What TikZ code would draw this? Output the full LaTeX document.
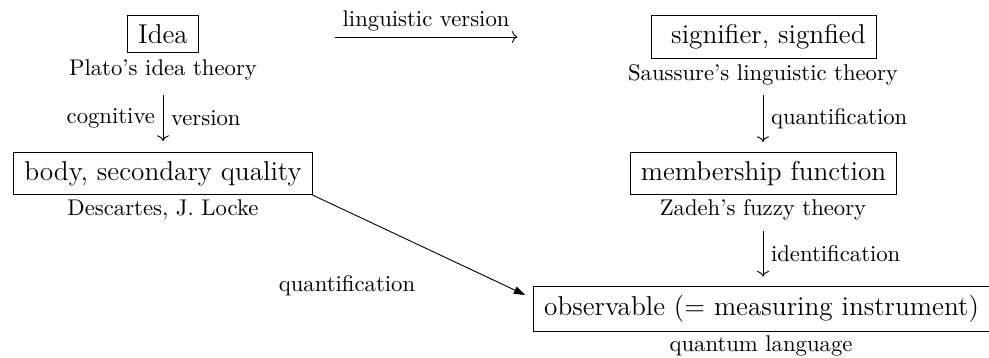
\documentclass[tikz,border=0pt]{standalone}
\usetikzlibrary{calc,arrows.meta}
\begin{document}
\begin{tikzpicture}[x=0.4405pt,y=-0.4405pt,
  box/.style={draw, font=\large, inner xsep=4.6pt, inner ysep=3.9pt, line width=0.4pt},
  sub/.style={inner sep=0pt, anchor=base},
  lab/.style={inner sep=0pt, anchor=base},
  arr/.style={->, line width=0.4pt},
  diag/.style={-{Triangle[length=5pt,width=3.4pt]}, line width=0.4pt}]
\useasboundingbox (0,0) rectangle (989,358);
% left column
\node[box] (idea) at (163,34) {Idea};
\node[sub] (plato) at (163,76) {Plato's idea theory};
\node[box] (body) at (163,173.5) {body, secondary quality\ };
\node[sub] (desc) at (163,216) {Descartes, J. Locke};
% right column
\node[box] (sig) at (764,37) {\ signifier, signfied};
\node[sub] (sau) at (763,81) {Saussure's linguistic theory};
\node[box] (mem) at (763.5,173.5) {membership function};
\node[sub] (zad) at (763,216) {Zadeh's fuzzy theory};
\node[box] (obs) at (761.5,308.5) {observable (= measuring instrument)};
\node[sub] (ql) at (761,351) {quantum language};
% connectors
\draw[arr] ($(plato.base)+(0,19)$) -- node[left]{cognitive} node[right]{version} ($(body.north)+(0,-11)$);
\draw[arr] ($(idea.east)+(136,3)$) -- node[above, inner sep=2.4pt]{linguistic version} ($(sig.west)+(-134,0)$);
\draw[arr] ($(sau.base)+(0,14)$) -- node[right]{quantification} ($(sau.base |- mem.north)+(0,-10)$);
\draw[arr] ($(zad.base)+(0,15)$) -- node[right]{identification} ($(zad.base |- obs.north)+(0,-9)$);
\draw[diag] (body.south east) -- ($(obs.west)+(-8,-13.5)$);
\node[lab] (qlab) at (347,291.5) {quantification};
\end{tikzpicture}
\end{document}
